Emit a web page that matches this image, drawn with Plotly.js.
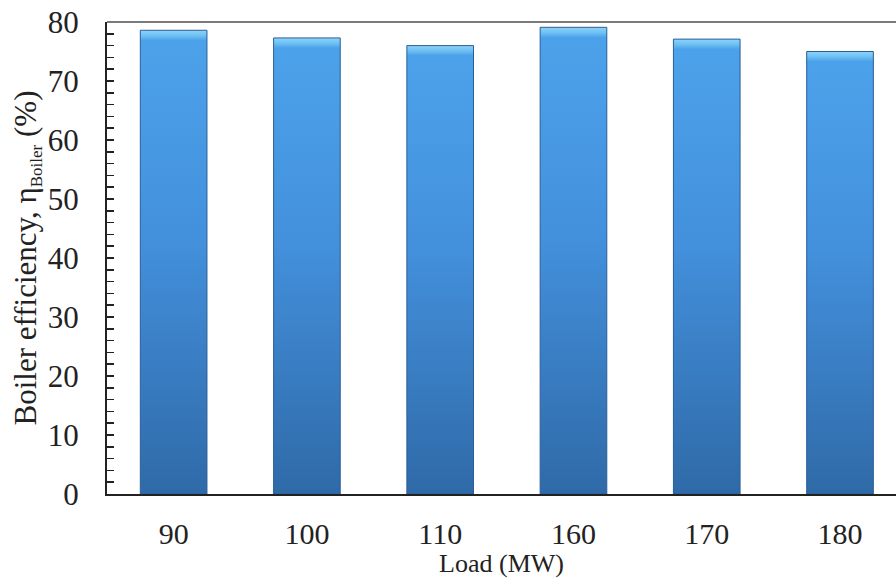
<!DOCTYPE html>
<html>
<head>
<meta charset="utf-8">
<script src="https://cdn.plot.ly/plotly-3.0.1.min.js"></script>
<style>html,body{margin:0;padding:0;background:#fff;overflow:hidden}</style>
</head>
<body>
<div id="chart" style="width:896px;height:578px"></div>
<script>
const loads = ["90", "100", "110", "160", "170", "180"];
const efficiency = [78.6, 77.3, 76.0, 79.1, 77.1, 75.0];
const yTicks = [0, 10, 20, 30, 40, 50, 60, 70, 80];

const FONT = "Liberation Serif, Times New Roman, serif";

const trace = {
  type: "bar",
  x: loads,
  y: efficiency,
  width: 0.5,
  marker: {color: "#3f8ad6", line: {color: "#2a5e98", width: 1}},
  hoverinfo: "x+y"
};

const layout = {
  width: 896, height: 578,
  margin: {l: 107, r: 0, t: 22, b: 84},
  paper_bgcolor: "#ffffff", plot_bgcolor: "#ffffff",
  showlegend: false,
  font: {family: FONT, color: "#222"},
  xaxis: {
    type: "category",
    range: [-0.5, 5.42],
    showgrid: false, zeroline: false,
    showline: true, linecolor: "#222", linewidth: 2,
    ticks: "", tickfont: {family: FONT, size: 30, color: "#222"},
    ticklabelstandoff: 12,
    title: {text: "Load (MW)", font: {family: FONT, size: 26, color: "#222"}, standoff: 4}
  },
  yaxis: {
    range: [0, 80],
    tickvals: yTicks,
    showgrid: false, zeroline: false,
    showline: true, linecolor: "#222", linewidth: 2,
    ticks: "inside", ticklen: 7, tickwidth: 1.5, tickcolor: "#222",
    minor: {dtick: 2, ticks: "inside", ticklen: 7, tickwidth: 1.5, tickcolor: "#222"},
    tickfont: {family: FONT, size: 31, color: "#222"},
    ticklabelstandoff: 20,
    title: {text: "Boiler efficiency, η<sub><span style=\"font-size:17px\">Boiler</span></sub> (%)", font: {family: FONT, size: 31, color: "#222"}, standoff: 2}
  },
  shapes: [{type: "line", xref: "paper", yref: "paper", x0: 0, x1: 1, y0: 1, y1: 1,
            line: {color: "#7a7a7a", width: 2}}]
};

Plotly.newPlot("chart", [trace], layout, {displayModeBar: false, staticPlot: true}).then(function (gd) {
  const svg = gd.querySelector(".main-svg");
  const NS = "http://www.w3.org/2000/svg";
  let defs = svg.querySelector("defs");
  if (!defs) { defs = document.createElementNS(NS, "defs"); svg.insertBefore(defs, svg.firstChild); }
  const g = document.createElementNS(NS, "linearGradient");
  g.setAttribute("id", "barGrad");
  g.setAttribute("x1", "0"); g.setAttribute("y1", "0");
  g.setAttribute("x2", "0"); g.setAttribute("y2", "1");
  [[0, "#8fd3f8"], [0.012, "#6cc0f3"], [0.022, "#4ca2ea"], [0.45, "#4390dc"], [1, "#2f6aa8"]].forEach(function (s) {
    const st = document.createElementNS(NS, "stop");
    st.setAttribute("offset", s[0]);
    st.setAttribute("stop-color", s[1]);
    g.appendChild(st);
  });
  defs.appendChild(g);
  gd.querySelectorAll(".bars .point path").forEach(function (p) {
    p.style.fill = "url(#barGrad)";
  });
});
</script>
</body>
</html>
